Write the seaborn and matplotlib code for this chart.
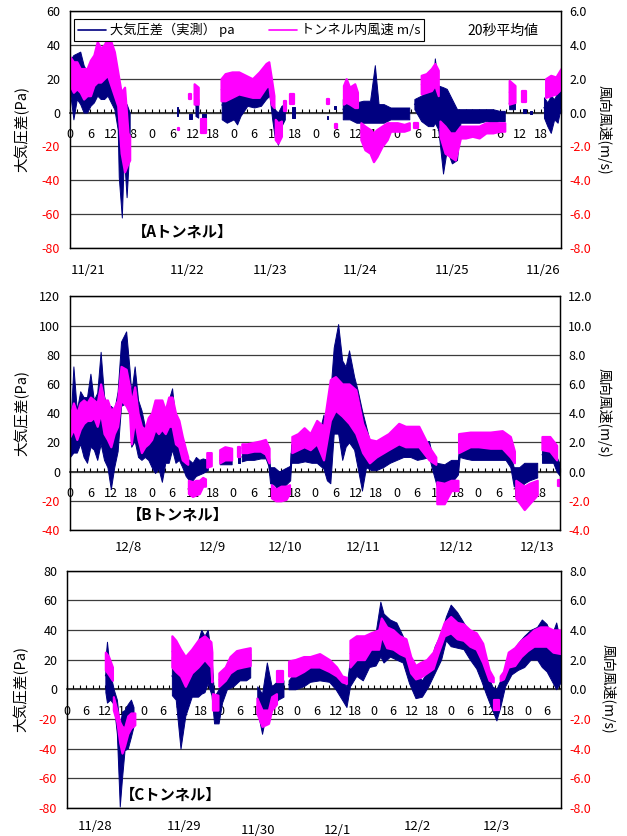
import numpy as np
import pandas as pd
import matplotlib
matplotlib.use("Agg")
import matplotlib.pyplot as plt
import matplotlib.transforms as mtransforms
from matplotlib.lines import Line2D
import seaborn as sns

nan = np.nan

# ---------------- Aトンネル (11/21 - 11/26) ----------------
a_days = ["11/21", "11/22", "11/23", "11/24", "11/25", "11/26"]
a_day_hour = [5.3, 34.3, 58.7, 85.0, 112.0, 138.7]

# 大気圧差 [Pa] : envelope (upper / lower) of the 20 s averages
a_prs_t = [0, 1, 2, 3, 4, 5, 6, 7, 8, 9, 10, 11, 12, 13, 14, 14.3, 15.2, 15.8, 16.6, 17.5, 24,
           31.3, 31.8, 33, 35, 35.8, 36.2, 36.8, 37.6, 38.1, 38.6, 40, 42,
           44.5, 46, 48, 49, 50, 52, 54, 56, 57.5, 58.5, 59.3, 60, 61, 62, 63, 64,
           65, 66, 70,
           75.3, 75.8, 76.5, 77.5, 78, 79,
           80, 82, 84, 86, 88, 89.4, 90.5, 92, 93, 94, 96, 98, 99.5, 100,
           101, 103, 105, 106.5, 107, 108, 109.4, 110.5, 112, 113.5, 114.5, 116, 118, 120, 122, 124, 126, 127.5, 128.2,
           128.8, 130.5, 131.5, 133, 133.8, 134.5, 135, 135.5, 137,
           139, 140, 141, 142, 143, 144]
a_prs_hi = [31, 34, 35, 36, 28, 24, 24, 30, 42, 33, 30, 31, 29, 24, 18, 10, 5, 3, 5, 0, nan,
            3, 3, nan, -1, -1, nan, 11, 8, nan, -1, -1, nan,
            13, 13, 11, 11, 12, 15, 15, 16, 19, 20, 10, 2, 0, 4, 5, nan,
            3, 3, nan,
            -2, -2, nan, 4, 4, nan,
            8, 8, 6, 7, 7, 28, 5, 5, 4, 3, 3, 3, 3, nan,
            8, 10, 13, 18, 32, 16, 15, 14, 8, 2, 2, 2, 2, 2, 2, 2, 1, 1, nan,
            9, 8, nan, 2, 2, nan, 1, 1, nan,
            9, 6, 10, 8, 12, 14]
a_prs_lo = [12, -4, 8, 5, 0, 0, 4, 6, 10, 8, 8, 10, 6, 2, -10, -38, -62, -25, -50, -18, nan,
            -2, -2, nan, -4, -4, nan, -2, -3, nan, -7, -7, nan,
            -4, -6, -4, -7, -2, 4, 3, 4, 8, 10, -4, -14, -19, -8, -4, nan,
            -3, -3, nan,
            -4, -4, nan, 2, 2, nan,
            -4, -4, -6, -6, -6, -6, -6, -6, -5, -4, -4, -4, -4, nan,
            2, -5, -8, -8, -6, -10, -36, -22, -30, -28, -6, -6, -6, -6, -5, -6, -5, -5, nan,
            2, 2, nan, 0, 0, nan, -1, -1, nan,
            -3, -8, -12, -4, -6, 4]

# トンネル内風速 [m/s]
a_wnd_t = [0, 1, 2, 3, 4, 5, 6, 7, 8, 9, 10, 11, 12, 13, 14, 15, 16, 17, 17.5, 24,
           31.6, 32.1, 33, 34.8, 35.4, 36, 36.4, 37.6, 38.1, 38.5, 39.8, 42,
           44.3, 45.5, 47.5, 49.5, 51.5, 53.5, 55.5, 57.5, 58.3, 59, 59.8, 60,
           60.2, 61, 62, 62.4, 62.8, 63.4, 64, 64.6, 65.6, 70,
           75.5, 76, 76.8, 77.6, 78.2, 79,
           80.2, 81, 82, 83.5, 84.3, 84.8,
           85.3, 86.5, 88, 89, 90, 91.5, 93, 94, 96, 98, 99.5, 100.2,
           100.8, 102, 102.5,
           103, 104.5, 106, 107, 108, 108.2,
           108.5, 110, 111.5, 113, 114.5, 116, 118, 120, 122, 124, 126, 127.5, 128.2,
           128.8, 130.5, 131.5, 132.5, 133.8, 136,
           139.5, 141, 142.5, 144]
a_wnd_hi = [3.3, 3.0, 3.0, 2.6, 2.6, 2.6, 3.1, 3.4, 4.2, 3.8, 4.0, 4.4, 4.2, 3.6, 2.4, 1.2, 1.5, -1.2, -1.4, nan,
            -0.9, -0.9, nan, 1.1, 1.1, nan, 1.7, 1.5, nan, -0.4, -0.4, nan,
            2.0, 2.3, 2.4, 2.4, 2.2, 2.0, 2.4, 2.9, 3.0, 2.1, 1.0, nan,
            -0.4, -0.6, -0.5, nan, 0.7, 0.7, nan, 1.1, 1.1, nan,
            0.8, 0.8, nan, -0.7, -0.7, nan,
            1.6, 2.0, 1.5, 1.7, 1.2, nan,
            -0.6, -0.8, -1.0, -1.2, -1.0, -0.8, -0.6, -0.6, -0.6, -0.7, -0.6, nan,
            -0.6, -0.6, nan,
            2.2, 2.3, 2.6, 2.9, 2.5, nan,
            -0.5, -0.8, -1.2, -1.2, -0.8, -0.8, -0.8, -0.8, -0.6, -0.6, -0.6, -0.6, nan,
            1.9, 1.6, nan, 1.3, 1.3, nan,
            2.0, 2.2, 2.1, 2.6]
a_wnd_lo = [1.6, 1.2, 1.4, 1.2, 0.8, 1.0, 1.0, 1.6, 1.8, 1.8, 2.0, 2.2, 1.6, 1.0, 0.4, -2.4, -3.5, -3.0, -2.8, nan,
            -1.0, -1.0, nan, 0.8, 0.8, nan, 0.5, 0.5, nan, -1.2, -1.2, nan,
            0.7, 0.7, 0.9, 1.1, 1.0, 0.9, 0.9, 1.5, 1.6, 0.5, 0.3, nan,
            -1.6, -1.8, -1.4, nan, 0.1, 0.1, nan, 0.5, 0.5, nan,
            0.5, 0.5, nan, -0.9, -0.9, nan,
            0.5, 0.6, 0.5, 0.3, 0.3, nan,
            -1.6, -2.2, -2.4, -2.9, -2.6, -2.0, -1.6, -1.1, -1.1, -1.1, -1.0, nan,
            -0.9, -0.9, nan,
            1.1, 1.2, 1.3, 1.6, 1.0, nan,
            -1.4, -2.4, -2.6, -2.8, -1.5, -1.5, -1.4, -1.5, -1.2, -1.2, -1.1, -1.1, nan,
            0.5, 0.6, nan, 0.6, 0.6, nan,
            0.9, 1.0, 1.1, 1.4]

# ---------------- Bトンネル (12/8 - 12/13) ----------------
b_days = ["12/8", "12/9", "12/10", "12/11", "12/12", "12/13"]
b_day_hour = [17.1, 41.8, 63.2, 86.2, 113.5, 137.4]

b_prs_t = [0, 1, 2, 3, 4, 5, 6, 7, 8, 9, 10, 11, 12, 13, 14, 15, 16.5, 17.5, 18, 19, 20, 21, 22, 23, 24,
           25, 26, 27, 28, 29, 30, 31, 32, 33, 34, 35, 36, 37, 38, 39, 40.5, 42,
           44, 45.5, 47.5, 48.5, 49.3, 50, 50.2,
           50.5, 52, 54, 56, 57.5, 58.3, 58.8, 60, 61.5, 63, 64.7, 65, 67, 69, 71, 72.5, 74.5, 75.5, 76.5,
           77.5, 78.8, 80, 81, 82, 83.5, 84.5, 85.8, 87, 88.5, 90, 92, 94, 96, 98, 100, 102, 104, 105.5,
           106.5, 107.8, 110, 112, 114, 114.5, 116, 118, 120, 122, 124, 126, 128, 129.4, 130.4, 132,
           133.5, 135, 137.3, 138,
           138.7, 140, 142, 143, 144]
b_prs_hi = [26, 72, 42, 55, 51, 51, 67, 49, 54, 82, 52, 42, 45, 42, 55, 89, 96, 70, 54, 72, 49, 42, 31, 29, 31,
            42, 45, 45, 43, 49, 57, 35, 32, 19, 10, 8, 6, 10, 8, 9, 8, nan,
            10, 11, 10, nan, 11, 11, nan,
            13, 14, 15, 17, 19, 14, 3, 3, 0, 2, 4, 19, 18, 19, 20, 20, 39, 26, 54,
            85, 101, 76, 72, 83, 65, 56, 42, 31, 17, 17, 15, 17, 19, 21, 20, 17, 20, 21,
            10, 6, 5, 8, 8, 19, 18, 18, 18, 18, 19, 17, 17, 12, 3, 3,
            6, 6, 6, nan,
            17, 17, 16, 10, 5]
b_prs_lo = [10, 13, 13, 19, 10, 6, 17, 15, 8, 19, 8, 3, -12, 3, 14, 45, 47, 45, 17, 21, 10, 8, 10, 8, 3,
            -1, 2, -7, 6, 6, 15, 6, 8, 3, -3, -6, -6, -3, -2, -1, 1, nan,
            5, 5, 5, nan, 6, 6, nan,
            7, 8, 8, 9, 9, 4, -8, -9, -13, -10, -6, 6, 6, 7, 6, 6, 2, -6, -8,
            26, 26, 8, 17, 20, 15, 3, -13, 3, 1, 1, 3, 6, 8, 10, 10, 8, 9, 10,
            1, -10, -11, -8, -2, 10, 9, 8, 8, 8, 8, 8, 8, 3, -10, -12,
            -8, -6, -4, nan,
            6, 6, 6, 0, -3]

b_wnd_t = [0, 1, 2, 3, 4, 5, 6, 7, 8, 9, 10, 11, 12, 13, 14, 15, 16.5, 17.5, 18, 19, 20, 21, 22, 23, 24,
           25, 26, 27, 28, 29, 30, 31, 32, 33, 34, 34.6, 34.7,
           34.8, 36, 37, 38, 39, 39.8, 40,
           40.2, 41.5, 42,
           44, 45.5, 47.5, 48.5,
           49.3, 50, 50.2,
           50.5, 52, 54, 56, 57.4, 58.5, 58.8,
           59.2, 60.5, 62, 63.5, 64.5, 64.8,
           65.2, 67, 68.8, 70.6, 72.5, 74.5, 76.5, 78, 80, 82, 84, 86, 88, 90, 93.6, 96.6, 98.6, 102.5, 105.5, 107.5, 107.6,
           107.8, 110, 112, 114, 114.1,
           114.2, 117.6, 120, 123.5, 127, 129.4, 130.6, 130.8,
           131, 133.5, 135, 137.3, 138,
           138.7, 141, 143, 143.2,
           143.3, 144]
b_wnd_hi = [3.8, 4.7, 4.0, 4.7, 4.9, 4.7, 5.1, 4.9, 4.7, 6.0, 4.9, 4.9, 4.2, 4.4, 4.9, 7.2, 7.0, 5.8, 4.7, 5.8, 4.0, 3.1, 2.9, 3.7, 4.0,
            4.9, 4.9, 4.9, 4.2, 5.1, 5.1, 4.0, 3.5, 2.4, 1.5, 1.0, nan,
            -0.6, -0.7, -0.6, -0.6, -0.4, -0.5, nan,
            1.3, 1.3, nan,
            1.5, 1.7, 1.6, nan,
            1.7, 1.7, nan,
            1.9, 1.9, 2.0, 2.1, 2.2, 1.6, nan,
            -0.9, -1.2, -1.0, -1.0, -0.9, nan,
            2.4, 2.6, 3.0, 2.6, 3.5, 3.1, 6.3, 6.5, 6.0, 6.0, 5.6, 3.3, 2.2, 2.1, 2.6, 3.3, 3.1, 3.1, 1.7, 1.0, nan,
            -0.7, -0.8, -0.6, -0.6, nan,
            2.6, 2.7, 2.7, 2.7, 2.8, 2.4, 1.4, nan,
            -0.6, -1.0, -0.8, -0.6, nan,
            2.4, 2.4, 1.8, nan,
            -0.6, -0.6]
b_wnd_lo = [2.4, 2.9, 2.2, 2.9, 3.3, 3.5, 3.5, 3.7, 3.1, 4.0, 2.6, 2.2, 1.7, 2.6, 3.1, 4.9, 4.5, 4.0, 1.9, 3.5, 2.2, 1.3, 1.7, 1.9, 2.2,
            2.9, 2.6, 2.9, 2.6, 3.1, 3.1, 1.9, 1.7, 0.8, 0.6, 0.5, nan,
            -1.5, -1.7, -1.6, -1.5, -1.0, -1.0, nan,
            0.3, 0.4, nan,
            0.6, 0.8, 0.8, nan,
            1.0, 1.0, nan,
            1.3, 1.3, 1.4, 1.4, 1.2, 0.6, nan,
            -1.8, -2.0, -2.0, -1.9, -1.5, nan,
            1.3, 1.5, 1.7, 1.5, 1.9, 0.8, 3.5, 4.2, 3.8, 3.3, 2.6, 1.3, 0.6, 1.0, 1.5, 1.9, 1.7, 1.7, 0.8, 0.5, nan,
            -2.2, -2.2, -1.3, -1.3, nan,
            1.3, 1.7, 1.7, 1.6, 1.6, 1.0, 0.6, nan,
            -1.8, -2.6, -2.2, -1.6, nan,
            1.5, 1.4, 0.8, nan,
            -1.0, -1.0]

# ---------------- Cトンネル (11/28 - 12/3) ----------------
c_days = ["11/28", "11/29", "11/30", "12/1", "12/2", "12/3"]
c_day_hour = [8.8, 36.6, 59.7, 84.7, 109.7, 134.4]

c_prs_t = [12, 12.5, 13.5, 14.6, 15.6, 16.5, 17.2, 18, 19, 20, 20.8, 26,
           32.8, 34, 35.5, 37, 39, 41, 42, 43, 44, 45.2, 46, 47.4, 48.5, 50, 52, 54, 56, 57.3, 58.4,
           59.5, 61, 62.5, 64, 66, 67.7, 68.5,
           69.3, 71.4, 74, 76, 79, 82, 84, 86, 87.4, 88.5,
           90.5, 92.5, 94.5, 96.5, 98, 99, 101, 103, 105, 107,
           109, 111, 113, 115, 117, 118.5, 120, 122, 124, 126,
           128, 129.5, 131, 133, 134.3, 135.5, 137, 139, 141, 143,
           145, 147, 148.5, 150, 151.5, 153, 154.5]
c_prs_hi = [20, 32, 11, 0, -7, -25, -15, -14, -10, -7, -12, nan,
            22, 18, 15, 9, 20, 33, 40, 36, 40, 22, -5, 0, 6, 16, 18, 21, 22, 24, nan,
            2, -3, 18, 2, 6, 6, nan,
            6, 12, 13, 15, 15, 14, 12, 6, 2, 20,
            24, 29, 33, 38, 59, 51, 47, 45, 36, 22,
            11, 6, 13, 29, 38, 49, 57, 52, 45, 38,
            30, 24, 13, 2, 0, 6, 15, 24, 31, 36,
            40, 42, 47, 44, 36, 45, 30]
c_prs_lo = [-2, -9, -7, -10, -30, -79, -60, -41, -40, -32, -25, nan,
            -4, -7, -40, -18, -5, -5, -3, -2, 4, -4, -23, -23, -9, 0, 2, 6, 6, 8, nan,
            -14, -30, -14, -12, -7, -5, nan,
            0, 0, 2, 5, 6, 5, 0, -7, -12, 2,
            9, 6, 15, 16, 22, 18, 22, 20, 18, 4,
            -6, -5, 2, 11, 20, 33, 29, 28, 27, 20,
            14, 6, -3, -14, -21, -12, 2, 10, 13, 15,
            20, 20, 15, 12, 6, 0, 5]

c_wnd_t = [12, 13, 14.2, 14.3,
           14.5, 15.6, 16.5, 17.2, 18, 19, 20, 21.2, 26,
           32.8, 34, 35.5, 37, 39, 41, 43, 45, 45.3, 45.4,
           45.5, 47.2, 47.3,
           47.5, 49.5, 51, 53, 55, 57.3, 58.4,
           59.4, 61, 63, 64, 65.5, 65.6,
           65.8, 67.5, 68.5,
           69.3, 71.4, 74, 76, 79, 82, 84.3, 86, 87.4, 87.5,
           88.5, 90.5, 93, 95, 97.5, 98.3, 100, 102, 104, 106,
           107.5, 109, 110.5, 112.5, 114.5, 116, 118, 120, 122, 124,
           126, 128, 130, 132, 133.3, 133.4,
           133.5, 135, 135.2,
           135.5, 136.5, 138, 140, 142, 144, 146, 148, 150, 152, 154.5]
c_wnd_hi = [2.5, 2.2, 1.5, nan,
            -0.5, -1.4, -2.2, -2.5, -2.6, -1.8, -1.6, -1.6, nan,
            3.6, 3.3, 2.7, 2.2, 2.7, 3.3, 3.6, 3.2, 2.5, nan,
            -0.3, -0.4, nan,
            1.1, 1.5, 2.2, 2.6, 2.7, 2.8, nan,
            -0.6, -1.4, -1.4, -0.5, -0.3, nan,
            1.2, 1.2, nan,
            1.9, 2.0, 2.2, 2.2, 2.4, 2.0, 1.5, 0.9, 0.8, nan,
            3.3, 3.6, 3.6, 3.8, 4.0, 4.8, 4.2, 4.0, 3.6, 3.4,
            2.2, 1.6, 1.8, 2.0, 2.5, 3.3, 4.5, 4.9, 4.5, 4.4,
            4.0, 3.8, 3.1, 1.3, 0.8, nan,
            -0.7, -0.7, nan,
            0.9, 1.2, 2.5, 2.8, 3.3, 3.6, 4.0, 4.2, 4.2, 4.0, 4.0]
c_wnd_lo = [1.3, 1.0, 0.6, nan,
            -1.4, -2.2, -3.6, -4.3, -3.8, -3.0, -2.6, -2.4, nan,
            1.5, 1.2, 0.9, 0.2, 1.1, 1.5, 2.0, 1.5, 0.5, nan,
            -1.4, -1.4, nan,
            0.2, 0.6, 1.1, 1.4, 1.5, 1.6, nan,
            -1.6, -2.5, -2.3, -1.4, -1.0, nan,
            0.5, 0.5, nan,
            0.9, 0.9, 1.2, 1.5, 1.5, 1.2, 0.9, 0.5, 0.4, nan,
            1.5, 2.0, 2.0, 2.7, 2.7, 3.6, 2.8, 2.7, 2.4, 2.2,
            1.1, 0.7, 0.8, 1.1, 1.4, 2.4, 3.6, 3.8, 3.4, 3.3,
            2.9, 2.7, 1.8, 0.6, 0.5, nan,
            -1.4, -1.4, nan,
            0.6, 0.7, 1.5, 1.6, 2.2, 2.6, 2.9, 2.9, 2.9, 2.5, 2.4]

# ---------------- styling ----------------
sns.set_style("white", {"axes.edgecolor": "black", "text.color": "black",
                        "xtick.color": "black", "ytick.color": "black",
                        "axes.labelcolor": "black"})
plt.rcParams["font.family"] = ["Noto Sans CJK JP", "DejaVu Sans"]
plt.rcParams["axes.unicode_minus"] = False

NAVY = "#000080"
MAGENTA = "#FF00FF"
RED = "#FF0000"
GRID = "#3c3c3c"
W, H = 627, 836


def draw_band(ax, t, hi, lo, color, edge_lw):
    """Draw each unbroken run of (hi, lo) samples as a min-max band."""
    df = pd.DataFrame({"t": t, "hi": hi, "lo": lo})
    valid = df["hi"].notna()
    run = (~valid).cumsum()
    for _, seg in df[valid].groupby(run[valid]):
        if len(seg) < 2:
            continue
        long = seg.melt(id_vars="t", value_vars=["hi", "lo"], value_name="v")
        sns.lineplot(data=long, x="t", y="v", estimator="mean",
                     errorbar=("pi", 100), color=color, linewidth=0.8,
                     err_kws={"alpha": 1, "linewidth": edge_lw},
                     legend=False, ax=ax)


def style_panel(ax, ax2, ylim, ystep, xmax, last_tick):
    lo_, hi_ = ylim
    yt = np.arange(lo_, hi_ + ystep / 2, ystep)
    ax.set_xlim(0, xmax)
    ax.set_ylim(lo_, hi_)
    ax2.set_ylim(lo_ / 10, hi_ / 10)
    ax.set_yticks(yt, [f"{int(v)}" for v in yt])
    ax2.set_yticks(yt / 10, [f"{v / 10:.1f}" for v in yt])
    for lab, v in zip(ax.get_yticklabels(), yt):
        lab.set_color(RED if v < 0 else "black")
    for lab, v in zip(ax2.get_yticklabels(), yt):
        lab.set_color(RED if v < 0 else "black")
    ax.grid(axis="y", color=GRID, linewidth=0.9)
    ax.grid(axis="x", visible=False)
    ax.set_axisbelow(True)
    ax.tick_params(axis="y", length=0, pad=7, labelsize=9)
    ax2.tick_params(axis="y", length=0, pad=6, labelsize=9)
    ax.set_xticks([])
    ax.set_xlabel("")
    ax2.set_xlabel("")
    for a in (ax, ax2):
        for sp in a.spines.values():
            sp.set_color("black")
            sp.set_linewidth(0.9)
    # hour axis drawn along the zero line
    frac = (0 - lo_) / (hi_ - lo_)
    sec = ax.secondary_xaxis(frac)
    sec.set_alignment("bottom")
    major = np.arange(0, last_tick + 1, 6)
    sec.set_xticks(major, [str(int(h) % 24) for h in major])
    sec.set_xticks(np.arange(0, xmax + 0.01, 2), minor=True)
    sec.tick_params(which="both", direction="in", length=3, width=0.8,
                    pad=11, labelsize=9)
    sec.spines["bottom"].set_color("black")
    sec.spines["bottom"].set_linewidth(1.1)


panels = [
    dict(px=(70, 248, 491, 237), ylim=(-80, 60), ystep=20, xmax=144, last=138,
         prs=(a_prs_t, a_prs_hi, a_prs_lo), wnd=(a_wnd_t, a_wnd_hi, a_wnd_lo),
         days=a_days, day_hour=a_day_hour, day_y=[-0.093] * 6,
         tag="【Aトンネル】", tag_xy=(0.23, 0.069), ylab_x=-0.098, rlab_x=1.088),
    dict(px=(70, 530, 490, 233.7), ylim=(-40, 120), ystep=20, xmax=144, last=138,
         prs=(b_prs_t, b_prs_hi, b_prs_lo), wnd=(b_wnd_t, b_wnd_hi, b_wnd_lo),
         days=b_days, day_hour=b_day_hour, day_y=[-0.077] * 6,
         tag="【Bトンネル】", tag_xy=(0.22, 0.064), ylab_x=-0.098, rlab_x=1.090),
    dict(px=(67, 808, 494, 237.5), ylim=(-80, 80), ystep=20, xmax=154.5, last=150,
         prs=(c_prs_t, c_prs_hi, c_prs_lo), wnd=(c_wnd_t, c_wnd_hi, c_wnd_lo),
         days=c_days, day_hour=c_day_hour,
         day_y=[-0.080, -0.076, -0.095, -0.095, -0.080, -0.080],
         tag="【Cトンネル】", tag_xy=(0.21, 0.055), ylab_x=-0.093, rlab_x=1.095),
]

fig = plt.figure(figsize=(W / 100, H / 100), dpi=100)

for i, p in enumerate(panels):
    l, b, w, h = p["px"]
    ax = fig.add_axes([l / W, 1 - b / H, w / W, h / H])
    ax2 = ax.twinx()
    draw_band(ax, *p["prs"], color=NAVY, edge_lw=0.7)
    draw_band(ax2, *p["wnd"], color=MAGENTA, edge_lw=1.6)
    style_panel(ax, ax2, p["ylim"], p["ystep"], p["xmax"], p["last"])

    ax.set_ylabel("大気圧差(Pa)", fontsize=10.5, va="center", ha="center")
    ax.yaxis.set_label_coords(p["ylab_x"], 0.5)
    ax2.set_ylabel("風向風速(m/s)", fontsize=10, rotation=270, va="center", ha="center")
    ax2.yaxis.set_label_coords(p["rlab_x"], 0.5)

    trans = mtransforms.blended_transform_factory(ax.transData, ax.transAxes)
    for d, hx, dy in zip(p["days"], p["day_hour"], p["day_y"]):
        ax.text(hx, dy, d, transform=trans, ha="center", va="center",
                fontsize=9.5, clip_on=False)

    ax2.text(*p["tag_xy"], p["tag"], transform=ax.transAxes, ha="center",
             va="center", fontsize=11, fontweight="bold")

    if i == 0:
        handles = [Line2D([], [], color=NAVY, lw=1.2),
                   Line2D([], [], color=MAGENTA, lw=1.2)]
        leg = ax2.legend(handles, ["大気圧差（実測） pa", "トンネル内風速 m/s"],
                         loc="upper left", bbox_to_anchor=(0.0088, 0.966),
                         borderaxespad=0, ncol=2, frameon=True, fancybox=False,
                         edgecolor="black", framealpha=1, fontsize=9.5,
                         handlelength=2.1, handletextpad=0.3,
                         columnspacing=2.6, borderpad=0.3)
        leg.get_frame().set_linewidth(0.8)
        ax2.text(0.882, 0.916, "20秒平均値", transform=ax.transAxes,
                 ha="center", va="center", fontsize=10)

fig.savefig("out.png", dpi=100)
